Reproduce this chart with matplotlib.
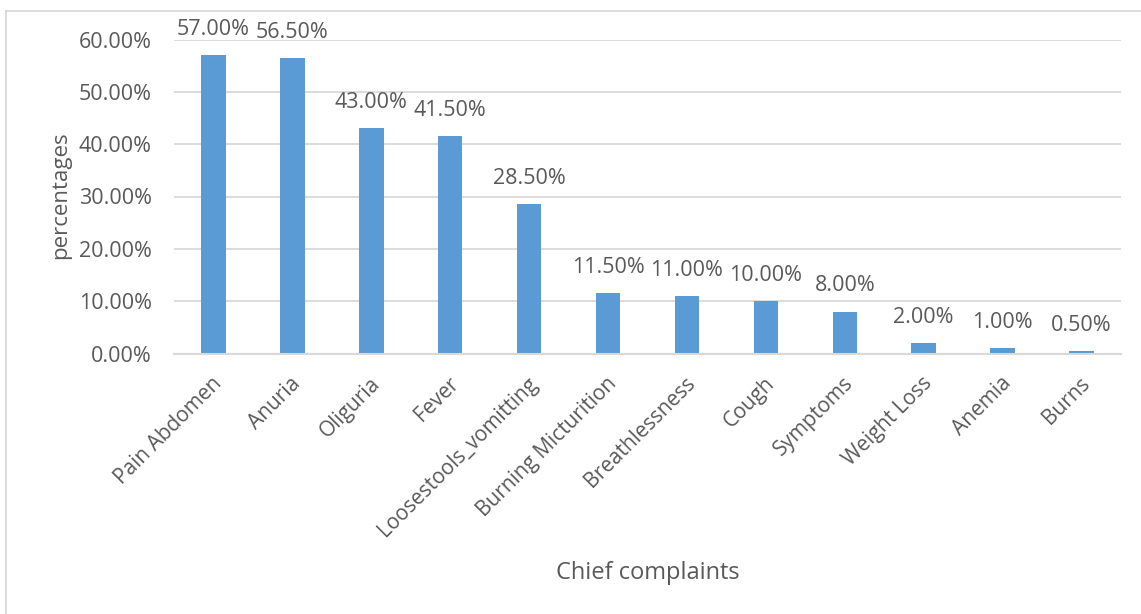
import matplotlib
matplotlib.use("Agg")
import matplotlib.pyplot as plt
from matplotlib.lines import Line2D
import matplotlib.transforms as mtransforms
import numpy as np

categories = ["Pain Abdomen", "Anuria", "Oliguria", "Fever", "Loosestools_vomitting",
              "Burning Micturition", "Breathlessness", "Cough", "Symptoms",
              "Weight Loss", "Anemia", "Burns"]
values = [57.0, 56.5, 43.0, 41.5, 28.5, 11.5, 11.0, 10.0, 8.0, 2.0, 1.0, 0.5]
yticks = [0, 10, 20, 30, 40, 50, 60]

plt.rcParams['font.family'] = ['Open Sans', 'DejaVu Sans']
TXT = '#595959'
FS = 15.5
W, H = 1141, 614
fig = plt.figure(figsize=(W / 100, H / 100), dpi=100)
ax = fig.add_axes([174 / W, 1 - 353.5 / H, 947 / W, 314 / H])

x = np.arange(len(categories))
ax.bar(x, values, width=0.31, color='#5B9BD5', zorder=3)
ax.set_xlim(-0.5, len(categories) - 0.5)
ax.set_ylim(0, 60)
ax.set_yticks(yticks)
ax.set_yticklabels([f"{v:.2f}%" for v in yticks], fontsize=FS, color=TXT)
ax.yaxis.grid(True, color='#D9D9D9', linewidth=1.3, zorder=0)
ax.tick_params(axis='y', length=0, pad=16)
ax.tick_params(axis='x', length=0, pad=14)
ax.set_xticks(x)
ax.set_xticklabels(categories, rotation=45, ha='right', va='top',
                   rotation_mode='anchor', fontsize=15, color=TXT)
shift = mtransforms.ScaledTranslation(-2 / 100, 0, fig.dpi_scale_trans)
for lbl in ax.get_xticklabels():
    lbl.set_transform(lbl.get_transform() + shift)
for s in ['top', 'right', 'left']:
    ax.spines[s].set_visible(False)
ax.spines['bottom'].set_color('#D9D9D9')
ax.spines['bottom'].set_linewidth(1.5)
ax.spines['bottom'].set_zorder(4)

for xi, v in zip(x, values):
    ax.annotate(f"{v:.2f}%", (xi, v), xytext=(0, 11), textcoords='offset points',
                ha='center', va='bottom', fontsize=FS, color=TXT, clip_on=False)

fig.text(648 / W, 1 - 573 / H, "Chief complaints", ha='center', va='center',
         fontsize=17, color=TXT)
fig.text(61 / W, 1 - 195 / H, "percentages", ha='center', va='center',
         rotation=90, fontsize=16, color=TXT)

fig.add_artist(Line2D([5.5 / W, 5.5 / W], [0, 1 - 10.5 / H], transform=fig.transFigure,
                      color='#D9D9D9', linewidth=1.3))
fig.add_artist(Line2D([5.5 / W, 1], [1 - 10.5 / H, 1 - 10.5 / H], transform=fig.transFigure,
                      color='#D9D9D9', linewidth=1.3))

fig.savefig("out.png", dpi=100)
